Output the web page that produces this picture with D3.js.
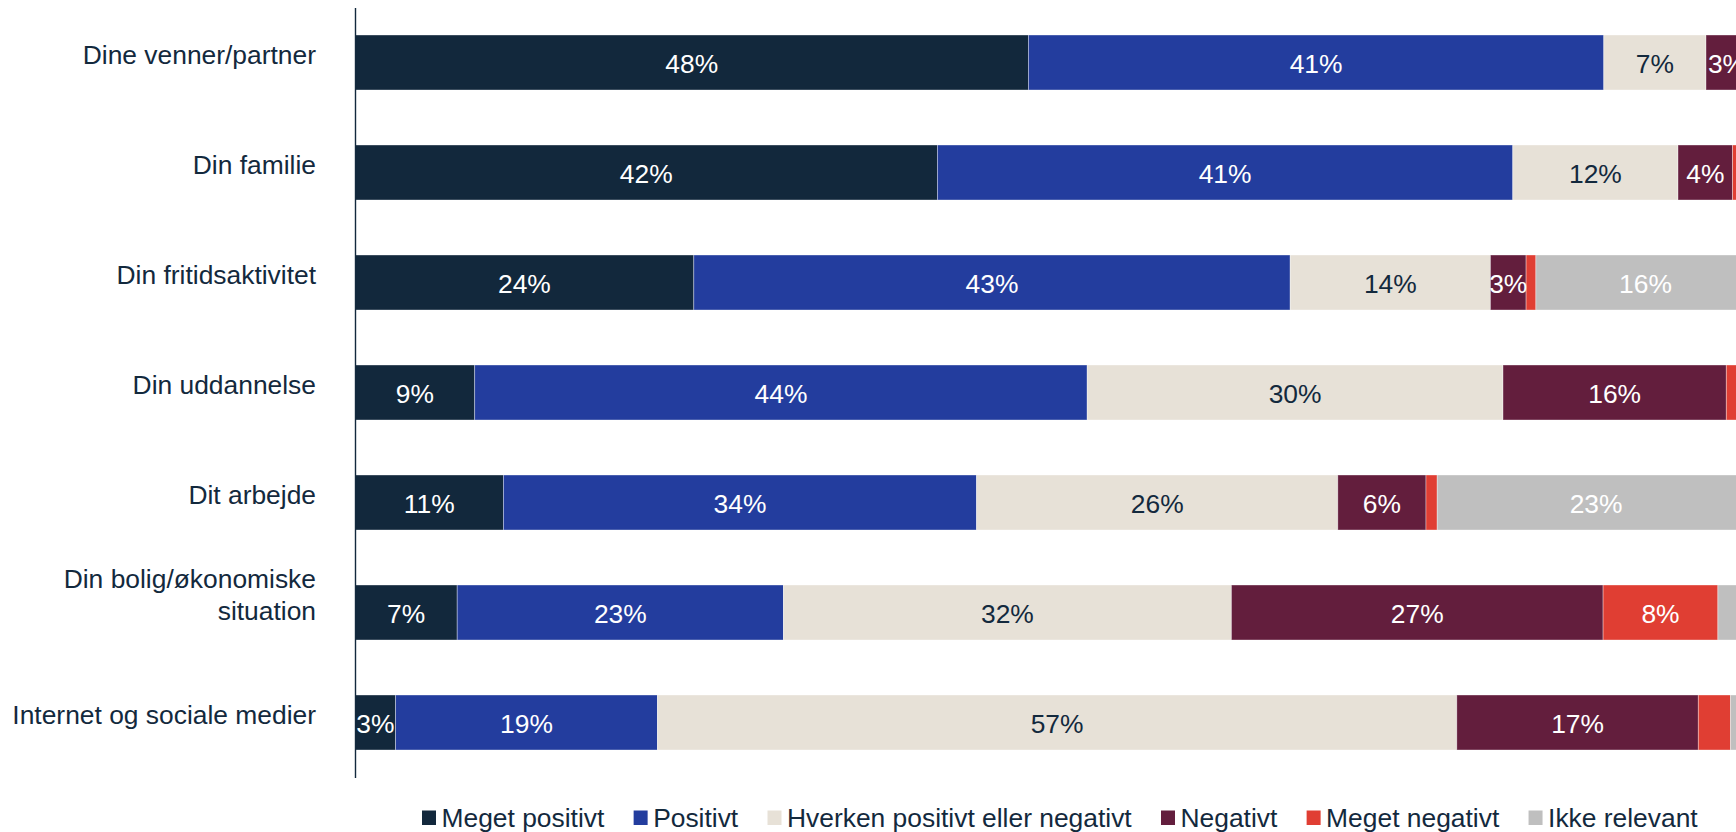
<!DOCTYPE html>
<html lang="da">
<head>
<meta charset="utf-8">
<title>Påvirkning af livsområder</title>
<script src="https://cdn.jsdelivr.net/npm/d3@7"></script>
<style>
  html, body { margin: 0; padding: 0; background: #fff; }
  svg { display: block; font-family: "Liberation Sans", Arial, sans-serif; }
</style>
</head>
<body>
<svg id="chart" width="1736" height="832"></svg>
<script>
// Categories (rows, top to bottom)
const categories = [
  "Dine venner/partner",
  "Din familie",
  "Din fritidsaktivitet",
  "Din uddannelse",
  "Dit arbejde",
  "Din bolig/økonomiske situation",
  "Internet og sociale medier"
];

// Answer series (stack order, left to right)
const seriesNames = [
  "Meget positivt",
  "Positivt",
  "Hverken positivt eller negativt",
  "Negativt",
  "Meget negativt",
  "Ikke relevant"
];

// Share of answers (%) per series, one value per category
const megetPositivt = [48.1, 41.6, 24.2, 8.55, 10.6, 7.3, 2.9];
const positivt      = [41.1, 41.1, 42.6, 43.75, 33.8, 23.3, 18.7];
const hverken       = [7.3, 11.8, 14.3, 29.7, 25.8, 32.0, 57.1];
const negativt      = [3.0, 3.9, 2.55, 15.95, 6.3, 26.55, 17.25];
const megetNegativt = [0.3, 0.9, 0.7, 1.2, 0.8, 8.2, 2.3];
const ikkeRelevant  = [0.2, 0.7, 15.65, 0.85, 22.7, 2.4, 1.75];

const seriesValues = [megetPositivt, positivt, hverken, negativt, megetNegativt, ikkeRelevant];

const colors = ["#12283c", "#233d9e", "#e7e1d7", "#631e3d", "#e03e33", "#bfbfbf"];
const labelColors = ["#ffffff", "#ffffff", "#13293d", "#ffffff", "#ffffff", "#ffffff"];
const textColor = "#13293d";

// Build rows for d3.stack
const rows = categories.map((c, i) => {
  const r = { category: c };
  seriesNames.forEach((s, j) => { r[s] = seriesValues[j][i]; });
  return r;
});

const stacked = d3.stack().keys(seriesNames)(rows);

const svg = d3.select("#chart");

const x = d3.scaleLinear().domain([0, 100]).range([355, 1755]);
const y = d3.scaleBand().domain(categories).range([7.5, 777.5])
  .paddingInner(0.5).paddingOuter(0.25);

const color = d3.scaleOrdinal().domain(seriesNames).range(colors);
const labelColor = d3.scaleOrdinal().domain(seriesNames).range(labelColors);

// Stacked segments
const layers = svg.append("g").attr("class", "bars")
  .selectAll("g")
  .data(stacked)
  .join("g")
  .attr("fill", d => color(d.key));

layers.selectAll("rect")
  .data(d => d.map(p => ({ key: d.key, p })))
  .join("rect")
  .attr("x", d => x(d.p[0]))
  .attr("y", d => y(d.p.data.category))
  .attr("width", d => x(d.p[1]) - x(d.p[0]))
  .attr("height", y.bandwidth())
  .attr("stroke", "#ffffff")
  .attr("stroke-opacity", 0.45)
  .attr("stroke-width", 0.8);

// Value labels inside segments
const fmt = v => Math.round(v) + "%";
svg.append("g").attr("class", "values")
  .selectAll("g")
  .data(stacked)
  .join("g")
  .selectAll("text")
  .data(d => d.map(p => ({ key: d.key, p, v: p[1] - p[0] })).filter(d => d.v >= 2.5))
  .join("text")
  .attr("x", d => (x(d.p[0]) + x(d.p[1])) / 2)
  .attr("y", d => y(d.p.data.category) + y.bandwidth() / 2)
  .attr("dy", "0.4em")
  .attr("text-anchor", "middle")
  .attr("font-size", 26.4)
  .attr("fill", d => labelColor(d.key))
  .text(d => fmt(d.v));

// Vertical category axis
const axis = svg.append("g")
  .attr("transform", `translate(${x(0)},0)`)
  .call(d3.axisLeft(y).tickSize(0).tickSizeOuter(0).tickFormat(""));
axis.select(".domain").attr("stroke", textColor).attr("stroke-width", 1.4);

// Category labels, wrapped when wider than the label column
const labelRight = 316;
const maxWidth = 320;
const lineHeight = 32.5;
const catLabels = svg.append("g").attr("class", "categories")
  .selectAll("text")
  .data(categories)
  .join("text")
  .attr("text-anchor", "end")
  .attr("font-size", 26.4)
  .attr("fill", textColor);

catLabels.each(function (c) {
  const t = d3.select(this);
  const words = c.split(" ");
  const lines = [];
  let line = [];
  const probe = t.append("tspan");
  words.forEach(w => {
    const trial = line.concat(w).join(" ");
    probe.text(trial);
    if (probe.node().getComputedTextLength() > maxWidth && line.length) {
      lines.push(line.join(" "));
      line = [w];
    } else {
      line.push(w);
    }
  });
  lines.push(line.join(" "));
  probe.remove();
  const cy = y(c) + y.bandwidth() / 2;
  const firstBase = cy + 1 - (lines.length - 1) * 26;
  lines.forEach((l, i) => {
    t.append("tspan")
      .attr("x", labelRight)
      .attr("y", firstBase + i * lineHeight)
      .text(l);
  });
});

// Legend along the bottom
const legend = svg.append("g").attr("transform", "translate(422,0)");
let lx = 0;
seriesNames.forEach((s) => {
  const g = legend.append("g").attr("transform", `translate(${lx},0)`);
  g.append("rect")
    .attr("x", 0).attr("y", 810.5)
    .attr("width", 14).attr("height", 14.5)
    .attr("fill", color(s));
  const t = g.append("text")
    .attr("x", 19.5).attr("y", 826.5)
    .attr("font-size", 26.4)
    .attr("fill", textColor)
    .text(s);
  lx += 19.5 + t.node().getComputedTextLength() + 29.3;
});
</script>
</body>
</html>
